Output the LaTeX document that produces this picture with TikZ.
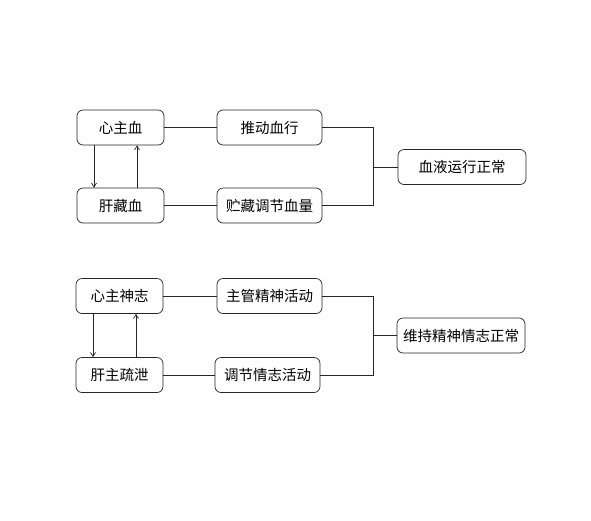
\documentclass[tikz,border=0pt]{standalone}
\usepackage{fontspec}
\newfontfamily\cjk{Noto Sans CJK SC}
\usepackage{tikz}
\usetikzlibrary{arrows.meta,positioning}
\tikzset{box/.style={draw=black!85,rounded corners=6pt,fill=white,align=center,minimum height=35pt,inner sep=2pt,font=\cjk\fontsize{14.5}{16}\selectfont},link/.style={draw=black!85,line width=0.7pt},arr/.style={-{Straight Barb[length=4pt,width=5pt]},draw=black!85,line width=0.7pt}}

\begin{document}
\begin{tikzpicture}[x=1pt,y=-1pt,line width=0.7pt,small/.style={box,minimum width=87pt},mid/.style={box,minimum width=105pt},wide/.style={box,minimum width=128pt}]
\useasboundingbox[fill=white] (0,0) rectangle (591,520);
% blood
\node[small] (xzx) at (120.5,127.5) {心主血};
\node[mid] (tdxx) at (269.5,127.5) {推动血行};
\node[small] (gcx) at (120.5,205.5) {肝藏血};
\node[mid] (zctj) at (269.5,205.5) {贮藏调节血量};
\node[wide] (xyyx) at (462,167) {血液运行正常};
\coordinate (j1) at (373,167);
\draw[link] (xzx) -- (tdxx);
\draw[link] (gcx) -- (zctj);
\draw[link] (tdxx.east) -| (j1);
\draw[link] (zctj.east) -| (j1);
\draw[link] (j1) -- (xyyx);
\draw[arr] ([xshift=-26.5pt]xzx.south) -- ([xshift=-26.5pt]gcx.north);
\draw[arr] ([xshift=16.5pt]gcx.north) -- ([xshift=16.5pt]xzx.south);
% spirit
\node[small] (xzsz) at (119.5,296) {心主神志};
\node[mid] (zgjs) at (269.5,296) {主管精神活动};
\node[small] (gzsx) at (119.5,375) {肝主疏泄};
\node[mid] (tjqz) at (267.5,375) {调节情志活动};
\node[wide] (wcjs) at (461,335.5) {维持精神情志正常};
\coordinate (j2) at (373,335.5);
\draw[link] (xzsz) -- (zgjs);
\draw[link] (gzsx) -- (tjqz);
\draw[link] (zgjs.east) -| (j2);
\draw[link] (tjqz.east) -| (j2);
\draw[link] (j2) -- (wcjs);
\draw[arr] ([xshift=-26.5pt]xzsz.south) -- ([xshift=-26.5pt]gzsx.north);
\draw[arr] ([xshift=16.5pt]gzsx.north) -- ([xshift=16.5pt]xzsz.south);
\end{tikzpicture}
\end{document}
